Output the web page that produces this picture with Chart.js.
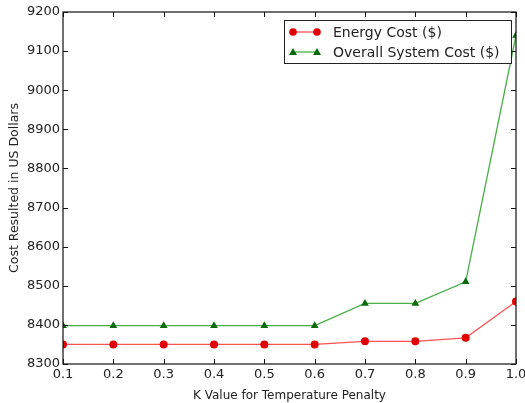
<!DOCTYPE html>
<html>
<head>
<meta charset="utf-8">
<script src="https://cdn.jsdelivr.net/npm/chart.js@4/dist/chart.umd.min.js"></script>
<style>
  html, body { margin: 0; padding: 0; background: #fff; }
  canvas { display: block; }
</style>
</head>
<body>
<canvas id="myChart" width="525" height="403"></canvas>
<script>
// data
var kValues = [0.1, 0.2, 0.3, 0.4, 0.5, 0.6, 0.7, 0.8, 0.9, 1.0];
var energyCost = [8350, 8350, 8350, 8350, 8350, 8350, 8358, 8358, 8367, 8460];
var overallCost = [8398, 8398, 8398, 8398, 8398, 8398, 8455, 8455, 8510, 9140];
var seriesNames = ['Energy Cost ($)', 'Overall System Cost ($)'];
var yTitle = 'Cost Resulted in US Dollars';

var font = 'DejaVu Sans';

var toPoints = (ys) => ys.map((y, i) => ({ x: kValues[i], y: y }));

// inward ticks on all four sides + box frame, matplotlib classic look
var frame = {
    id: 'frame',
    afterDatasetsDraw(chart) {
        var ctx = chart.ctx, a = chart.chartArea;
        var xs = chart.scales.x, ys = chart.scales.y;
        ctx.save();
        ctx.strokeStyle = '#111';
        ctx.lineWidth = 1;
        ctx.beginPath();
        xs.ticks.forEach(t => {
            var px = Math.round(xs.getPixelForValue(t.value)) + 0.5;
            ctx.moveTo(px, a.bottom); ctx.lineTo(px, a.bottom - 5);
            ctx.moveTo(px, a.top); ctx.lineTo(px, a.top + 5);
        });
        ys.ticks.forEach(t => {
            var py = Math.round(ys.getPixelForValue(t.value)) + 0.5;
            ctx.moveTo(a.left, py); ctx.lineTo(a.left + 5, py);
            ctx.moveTo(a.right, py); ctx.lineTo(a.right - 5, py);
        });
        ctx.stroke();
        ctx.lineWidth = 1.2;
        ctx.strokeRect(a.left, a.top, a.right - a.left, a.bottom - a.top);

        // y axis title
        ctx.fillStyle = '#222';
        ctx.font = '12.5px "' + font + '"';
        ctx.textAlign = 'center';
        ctx.textBaseline = 'middle';
        ctx.translate(15, (a.top + a.bottom) / 2);
        ctx.rotate(-Math.PI / 2);
        ctx.fillText(yTitle, 0, 0);
        ctx.restore();
    }
};

// legend box in the upper right corner
var boxLegend = {
    id: 'boxLegend',
    afterDraw(chart) {
        var ctx = chart.ctx, a = chart.chartArea;
        var w = 227, h = 43;
        var x0 = a.right - 5 - w, y0 = a.top + 8;
        ctx.save();
        ctx.fillStyle = '#fff';
        ctx.fillRect(x0, y0, w, h);
        ctx.strokeStyle = '#222';
        ctx.lineWidth = 1;
        ctx.strokeRect(x0 + 0.5, y0 + 0.5, w, h);
        ctx.font = '14px "' + font + '"';
        ctx.textBaseline = 'middle';
        chart.data.datasets.forEach((ds, i) => {
            var cy = y0 + 12 + i * 20;
            var lx1 = x0 + 9, lx2 = x0 + 33;
            ctx.strokeStyle = ds.borderColor;
            ctx.lineWidth = 1.3;
            ctx.beginPath(); ctx.moveTo(lx1, cy); ctx.lineTo(lx2, cy); ctx.stroke();
            ctx.fillStyle = ds.pointBackgroundColor;
            [lx1, lx2].forEach(px => {
                ctx.beginPath();
                if (ds.pointStyle === 'triangle') {
                    ctx.moveTo(px, cy - 4); ctx.lineTo(px + 4, cy + 3); ctx.lineTo(px - 4, cy + 3);
                    ctx.closePath();
                } else {
                    ctx.arc(px, cy, 3.8, 0, Math.PI * 2);
                }
                ctx.fill();
            });
            ctx.fillStyle = '#222';
            ctx.fillText(seriesNames[i], x0 + 49, cy + 1);
        });
        ctx.restore();
    }
};

var config = {
    type: 'line',
    data: {
        datasets: [
            {
                label: seriesNames[0],
                data: toPoints(energyCost),
                borderColor: 'rgba(255,40,40,0.8)',
                borderWidth: 1.3,
                pointStyle: 'circle',
                pointRadius: 4,
                pointBackgroundColor: '#e00000',
                pointBorderColor: '#e00000',
                pointBorderWidth: 0,
                tension: 0,
                clip: 0
            },
            {
                label: seriesNames[1],
                data: toPoints(overallCost),
                borderColor: 'rgba(40,160,40,0.85)',
                borderWidth: 1.3,
                pointStyle: 'triangle',
                pointRadius: 4.5,
                pointBackgroundColor: '#0a6a0a',
                pointBorderColor: '#0a6a0a',
                pointBorderWidth: 0,
                tension: 0,
                clip: 0
            }
        ]
    },
    options: {
        responsive: false,
        animation: false,
        events: [],
        layout: { padding: { top: 12, right: 9, left: 0, bottom: 0 } },
        plugins: { legend: { display: false }, tooltip: { enabled: false } },
        scales: {
            x: {
                type: 'linear',
                min: 0.1,
                max: 1.0,
                ticks: {
                    stepSize: 0.1,
                    color: '#222',
                    font: { family: font, size: 13 },
                    padding: 3,
                    maxRotation: 0,
                    autoSkip: false,
                    callback: (v) => v.toFixed(1)
                },
                grid: { display: false, drawTicks: false },
                border: { display: false },
                title: {
                    display: true,
                    text: 'K Value for Temperature Penalty',
                    color: '#222',
                    font: { family: font, size: 12 },
                    padding: { top: 2, bottom: 0 }
                },
                afterFit: (s) => { s.height = 39; s.paddingLeft = 0; s.paddingRight = 0; }
            },
            y: {
                min: 8300,
                max: 9200,
                ticks: {
                    stepSize: 100,
                    color: '#222',
                    font: { family: font, size: 13 },
                    padding: 3,
                    callback: (v) => String(v)
                },
                grid: { display: false, drawTicks: false },
                border: { display: false },
                afterFit: (s) => { s.width = 63; s.paddingTop = 0; s.paddingBottom = 0; }
            }
        }
    },
    plugins: [frame, boxLegend]
};

var lineGraph = new Chart(document.getElementById('myChart'), config);
</script>
</body>
</html>
